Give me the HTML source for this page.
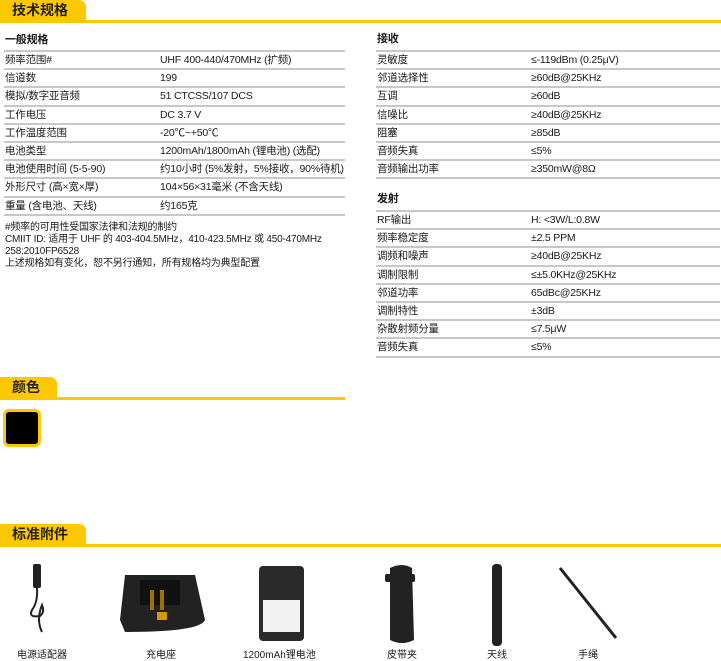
<!DOCTYPE html>
<html><head><meta charset="utf-8"><style>
*{margin:0;padding:0;box-sizing:border-box}
body{width:721px;height:659px;position:relative;background:#fff;font-family:"Liberation Sans","Noto Sans CJK SC",sans-serif;color:#1a1a1a;overflow:hidden}
.tab{position:absolute;left:0;background:#fcc800;border-radius:0 7px 0 0;font-size:14px;font-weight:bold;padding-left:12px;line-height:20px;color:#222}
.bar{position:absolute;left:0;height:3px;background:#fcc800}
.t{position:absolute;font-size:10.5px;line-height:18px;white-space:nowrap;letter-spacing:-0.2px}
.h{font-weight:bold;font-size:11px}
.ln{position:absolute;height:2px;background:#c8c8c8}
.lab{position:absolute;font-size:10px;white-space:nowrap;top:646px}
</style></head><body>
<div class="tab" style="top:0;width:86px;height:20px">技术规格</div>
<div class="bar" style="top:20px;width:721px"></div>

<div class="t" style="left:5px;top:222px;line-height:12px;font-size:10px">#频率的可用性受国家法律和法规的制约<br>CMIIT ID: 适用于 UHF 的 403-404.5MHz，410-423.5MHz 或 450-470MHz<br>258:2010FP6528<br>上述规格如有变化，恕不另行通知，所有规格均为典型配置</div>

<div class="tab" style="top:377px;width:57px;height:20px">颜色</div>
<div class="bar" style="top:397px;width:345px"></div>
<div style="position:absolute;left:3px;top:409px;width:38px;height:38px;background:#000;border:3px solid #fcc800;border-radius:6px"></div>

<div class="tab" style="top:524px;width:86px;height:20px">标准附件</div>
<div class="bar" style="top:544px;width:721px"></div>

<svg width="721" height="90" style="position:absolute;left:0;top:560px">
<rect x="33" y="4" width="8" height="24" fill="#222" rx="2"/>
<path d="M37 28 Q38 42 32 50 Q28 58 40 56 Q45 52 42 45 Q36 60 42 72" stroke="#222" stroke-width="2" fill="none"/>
<path d="M125 15 L195 15 L205 60 Q200 72 125 72 L120 60 Z" fill="#222"/>
<rect x="140" y="20" width="40" height="25" fill="#111"/>
<rect x="150" y="30" width="4" height="20" fill="#a07000"/><rect x="160" y="30" width="4" height="20" fill="#a07000"/>
<rect x="157" y="52" width="10" height="8" fill="#d59a00"/>
<rect x="259" y="6" width="45" height="75" rx="4" fill="#2a2a2a"/>
<rect x="263" y="40" width="37" height="32" fill="#f2f2f2"/>
<path d="M390 8 Q402 2 412 8 L414 80 Q402 86 390 80 Z" fill="#222"/>
<rect x="385" y="14" width="30" height="8" rx="2" fill="#222"/>
<rect x="492" y="4" width="10" height="82" rx="4" fill="#222"/>
<line x1="560" y1="8" x2="616" y2="78" stroke="#222" stroke-width="3"/>
</svg>
<div class="lab" style="left:17px">电源适配器</div>
<div class="lab" style="left:146px">充电座</div>
<div class="lab" style="left:243px">1200mAh锂电池</div>
<div class="lab" style="left:387px">皮带夹</div>
<div class="lab" style="left:487px">天线</div>
<div class="lab" style="left:578px">手绳</div>

<script>
function build(x0,x1,vx,head,headY,rows,y0){
 var h='';
 h+='<div class="t h" style="left:'+(x0+1)+'px;top:'+(headY-9)+'px">'+head+'</div>';
 var y=y0;
 h+='<div class="ln" style="left:'+x0+'px;width:'+(x1-x0)+'px;top:'+y+'px"></div>';
 rows.forEach(function(r){
  h+='<div class="t" style="left:'+(x0+1)+'px;top:'+(y+1)+'px">'+r[0]+'</div>';
  h+='<div class="t" style="left:'+vx+'px;top:'+(y+1)+'px">'+r[1]+'</div>';
  y+=18.2;
  h+='<div class="ln" style="left:'+x0+'px;width:'+(x1-x0)+'px;top:'+Math.round(y)+'px"></div>';
 });
 document.body.insertAdjacentHTML('beforeend',h);
}
build(4,345,160,'一般规格',40,[
['频率范围#','UHF 400-440/470MHz (扩频)'],['信道数','199'],['模拟/数字亚音频','51 CTCSS/107 DCS'],['工作电压','DC 3.7 V'],['工作温度范围','-20℃~+50℃'],['电池类型','1200mAh/1800mAh (锂电池) (选配)'],['电池使用时间 (5-5-90)','约10小时 (5%发射，5%接收，90%待机)'],['外形尺寸 (高×宽×厚)','104×56×31毫米 (不含天线)'],['重量 (含电池、天线)','约165克']],50);
build(376,720,531,'接收',39,[
['灵敏度','≤-119dBm (0.25μV)'],['邻道选择性','≥60dB@25KHz'],['互调','≥60dB'],['信噪比','≥40dB@25KHz'],['阻塞','≥85dB'],['音频失真','≤5%'],['音频输出功率','≥350mW@8Ω']],50);
build(376,720,531,'发射',199,[
['RF输出','H: &lt;3W/L:0.8W'],['频率稳定度','±2.5 PPM'],['调频和噪声','≥40dB@25KHz'],['调制限制','≤±5.0KHz@25KHz'],['邻道功率','65dBc@25KHz'],['调制特性','±3dB'],['杂散射频分量','≤7.5μW'],['音频失真','≤5%']],210);
</script>
</body></html>
